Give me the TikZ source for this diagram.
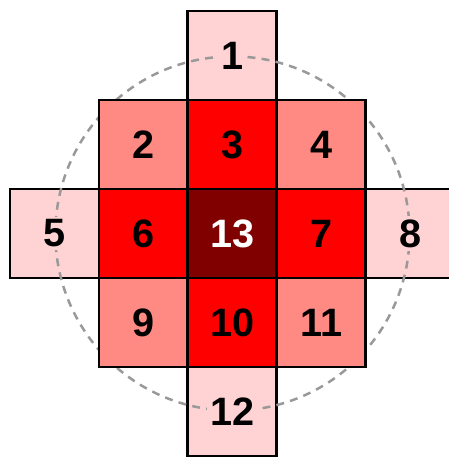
\documentclass[tikz,border=0pt]{standalone}
\usepackage{fontspec}
\setmainfont{Liberation Sans}
\usepackage{xcolor}
\usepackage{tikz}
\definecolor{cellpale}{HTML}{FFD3D3}
\definecolor{cellsalmon}{HTML}{FF8A84}
\definecolor{cellred}{HTML}{FF0000}
\definecolor{celldark}{HTML}{800000}

\begin{document}
\begin{tikzpicture}[
        x=1.5cm, y=1.5cm,
        cell/.style={rectangle, draw=black, line width=1.4pt,
                     minimum size=1.5cm, inner sep=0pt,
                     font=\fontsize{19}{19}\selectfont\bfseries},
        pale/.style={cell, fill=cellpale},
        salmon/.style={cell, fill=cellsalmon},
        hot/.style={cell, fill=cellred},
        core/.style={cell, fill=celldark, text=white},
        num/.style={fill=cellpale, inner sep=1.5pt,
                    font=\fontsize{19}{19}\selectfont\bfseries},
        ring/.style={gray!80, dashed, line width=1.2pt,
                     dash pattern=on 3.8pt off 3pt}
      ]
      \clip (-2.612,-2.511) rectangle (2.433,2.624);
      % outer ring of light cells
      \node[pale]   (c1)  at ( 0, 2) {};
      \node[pale]   (c5)  at (-2, 0) {};
      \node[pale]   (c8)  at ( 2, 0) {};
      \node[pale]   (c12) at ( 0,-2) {};
      \coordinate (mid) at (0,0);
      % dashed circle, hidden by the inner cells
      \draw[ring] (mid) circle (1.99);
      \node[num] (n1)  at (c1)  {1};
      \node[num] (n5)  at (c5)  {5};
      \node[num] (n8)  at (c8)  {8};
      \node[num] (n12) at (c12) {12};
      % corner cells
      \node[salmon] (c2)  at (-1, 1) {2};
      \node[salmon] (c4)  at ( 1, 1) {4};
      \node[salmon] (c9)  at (-1,-1) {9};
      \node[salmon] (c11) at ( 1,-1) {11};
      % cross cells
      \node[hot]    (c3)  at ( 0, 1) {3};
      \node[hot]    (c6)  at (-1, 0) {6};
      \node[hot]    (c7)  at ( 1, 0) {7};
      \node[hot]    (c10) at ( 0,-1) {10};
      \node[core]   (c13) at (mid) {13};
    \end{tikzpicture}
\end{document}
